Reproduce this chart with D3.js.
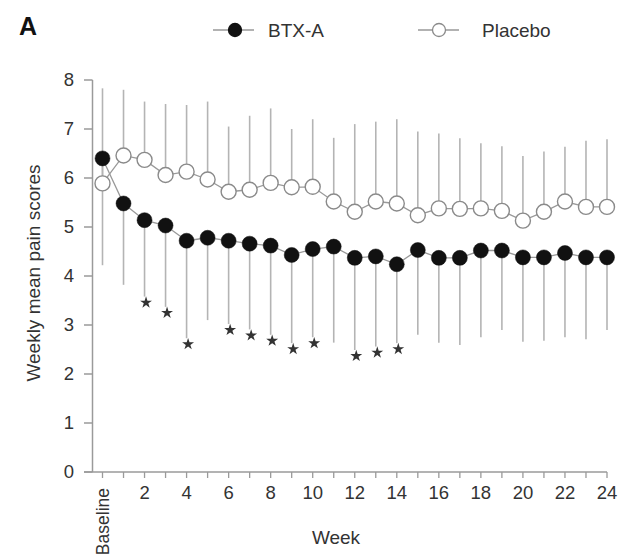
<!DOCTYPE html>
<html>
<head>
<meta charset="utf-8">
<script src="https://cdn.jsdelivr.net/npm/d3@7/dist/d3.min.js"></script>
<style>
  html, body { margin: 0; padding: 0; background: #fff; }
  svg { display: block; font-family: "Liberation Sans", Arial, Helvetica, sans-serif; }
</style>
</head>
<body>
<svg id="chart" width="627" height="557"></svg>
<script>
// ---- data ----
const weeks = [0,1,2,3,4,5,6,7,8,9,10,11,12,13,14,15,16,17,18,19,20,21,22,23,24];
const btxMean = [6.40,5.48,5.14,5.03,4.72,4.78,4.72,4.66,4.62,4.43,4.55,4.60,4.37,4.40,4.24,4.53,4.37,4.37,4.52,4.52,4.38,4.38,4.47,4.38,4.38];
const btxLower = [4.22,3.82,3.58,3.37,2.73,3.10,3.02,2.91,2.80,2.63,2.75,2.64,2.49,2.56,2.63,2.80,2.64,2.59,2.75,2.90,2.66,2.68,2.75,2.71,2.90];
const placeboMean = [5.89,6.46,6.37,6.06,6.13,5.97,5.72,5.76,5.90,5.81,5.82,5.52,5.31,5.52,5.48,5.24,5.38,5.37,5.38,5.33,5.13,5.31,5.52,5.41,5.41];
const placeboUpper = [7.83,7.80,7.56,7.51,7.49,7.56,7.05,7.27,7.42,7.00,7.20,6.82,7.10,7.15,7.20,6.95,6.91,6.81,6.71,6.65,6.45,6.54,6.64,6.76,6.79];
const significantWeeks = [2,3,4,6,7,8,9,10,12,13,14];
const yTicks = [0,1,2,3,4,5,6,7,8];
const xLabelWeeks = [2,4,6,8,10,12,14,16,18,20,22,24];
const seriesNames = ["BTX-A", "Placebo"];

// ---- layout ----
const svg = d3.select("#chart");
const x = d3.scaleLinear().domain([0, 24]).range([102.5, 607]);
const y = d3.scaleLinear().domain([0, 8]).range([472, 80]);
const axisColor = "#9a9a9a";
const textColor = "#333";
const barColor = "#b4b4b4";
const lineColor = "#999";
const R = 7.5;

// panel letter
svg.append("text").attr("x", 19).attr("y", 35)
  .attr("font-size", 25).attr("font-weight", "bold").attr("fill", "#111").text("A");

// y axis
const yAxisX = 92.5;
svg.append("line").attr("x1", yAxisX).attr("x2", yAxisX)
  .attr("y1", y(8)).attr("y2", y(0))
  .attr("stroke", axisColor).attr("stroke-width", 1.5);
svg.append("g").selectAll("line").data(yTicks).join("line")
  .attr("x1", 84).attr("x2", yAxisX)
  .attr("y1", d => y(d)).attr("y2", d => y(d))
  .attr("stroke", axisColor).attr("stroke-width", 1.5);
svg.append("g").selectAll("text").data(yTicks).join("text")
  .attr("x", 74).attr("y", d => y(d)).attr("dy", "0.35em")
  .attr("text-anchor", "end").attr("font-size", 18.5).attr("fill", textColor)
  .text(d => d);

// x axis
svg.append("line").attr("x1", 84).attr("x2", x(24))
  .attr("y1", y(0)).attr("y2", y(0))
  .attr("stroke", axisColor).attr("stroke-width", 1.5);
svg.append("g").selectAll("line").data(weeks).join("line")
  .attr("x1", d => x(d)).attr("x2", d => x(d))
  .attr("y1", y(0)).attr("y2", y(0) + 6)
  .attr("stroke", axisColor).attr("stroke-width", 1.3);
svg.append("g").selectAll("text").data(xLabelWeeks).join("text")
  .attr("x", d => x(d)).attr("y", 499)
  .attr("text-anchor", "middle").attr("font-size", 18.5).attr("fill", textColor)
  .text(d => d);
svg.append("text")
  .attr("transform", `translate(${x(0) + 6},488) rotate(-90)`)
  .attr("text-anchor", "end").attr("font-size", 17.5).attr("fill", textColor)
  .text("Baseline");

// axis titles
svg.append("text").attr("x", 336).attr("y", 544)
  .attr("text-anchor", "middle").attr("font-size", 19).attr("fill", textColor).text("Week");
svg.append("text")
  .attr("transform", `translate(40,273) rotate(-90)`)
  .attr("text-anchor", "middle").attr("font-size", 19).attr("fill", textColor)
  .text("Weekly mean pain scores");

// error bars
svg.append("g").selectAll("line").data(weeks).join("line")
  .attr("x1", d => x(d)).attr("x2", d => x(d))
  .attr("y1", (d, i) => y(placeboMean[i])).attr("y2", (d, i) => y(placeboUpper[i]))
  .attr("stroke", barColor).attr("stroke-width", 1.6);
svg.append("g").selectAll("line").data(weeks).join("line")
  .attr("x1", d => x(d)).attr("x2", d => x(d))
  .attr("y1", (d, i) => y(btxMean[i])).attr("y2", (d, i) => y(btxLower[i]))
  .attr("stroke", barColor).attr("stroke-width", 1.6);

// significance stars
const star = d3.symbol().type(d3.symbolStar).size(44);
svg.append("g").selectAll("path").data(significantWeeks).join("path")
  .attr("d", star)
  .attr("transform", d => `translate(${x(d) + 1.5},${y(btxLower[weeks.indexOf(d)]) + 6})`)
  .attr("fill", "#333");

// lines
const lineGen = vals => d3.line().x((d, i) => x(weeks[i])).y(d => y(d))(vals);
svg.append("path").attr("d", lineGen(placeboMean))
  .attr("fill", "none").attr("stroke", lineColor).attr("stroke-width", 1.3);
svg.append("path").attr("d", lineGen(btxMean))
  .attr("fill", "none").attr("stroke", lineColor).attr("stroke-width", 1.3);

// markers
svg.append("g").selectAll("circle").data(weeks).join("circle")
  .attr("cx", d => x(d)).attr("cy", (d, i) => y(placeboMean[i])).attr("r", R)
  .attr("fill", "#fff").attr("stroke", "#8a8a8a").attr("stroke-width", 1.4);
svg.append("g").selectAll("circle").data(weeks).join("circle")
  .attr("cx", d => x(d)).attr("cy", (d, i) => y(btxMean[i])).attr("r", R)
  .attr("fill", "#111").attr("stroke", "#111").attr("stroke-width", 0.5);

// legend
const legendItems = [
  {name: seriesNames[0], x0: 213, cx: 235, tx: 268, fill: "#111", stroke: "#111"},
  {name: seriesNames[1], x0: 418, cx: 439, tx: 482, fill: "#fff", stroke: "#8a8a8a"}
];
const lg = svg.append("g").selectAll("g").data(legendItems).join("g");
lg.append("line").attr("x1", d => d.x0).attr("x2", d => d.x0 + 41)
  .attr("y1", 30).attr("y2", 30).attr("stroke", lineColor).attr("stroke-width", 1.3);
lg.append("circle").attr("cx", d => d.cx).attr("cy", 30).attr("r", 6.5)
  .attr("fill", d => d.fill).attr("stroke", d => d.stroke).attr("stroke-width", 1.3);
lg.append("text").attr("x", d => d.tx).attr("y", 30).attr("dy", "0.36em")
  .attr("font-size", 19).attr("fill", textColor).text(d => d.name);
</script>
</body>
</html>
